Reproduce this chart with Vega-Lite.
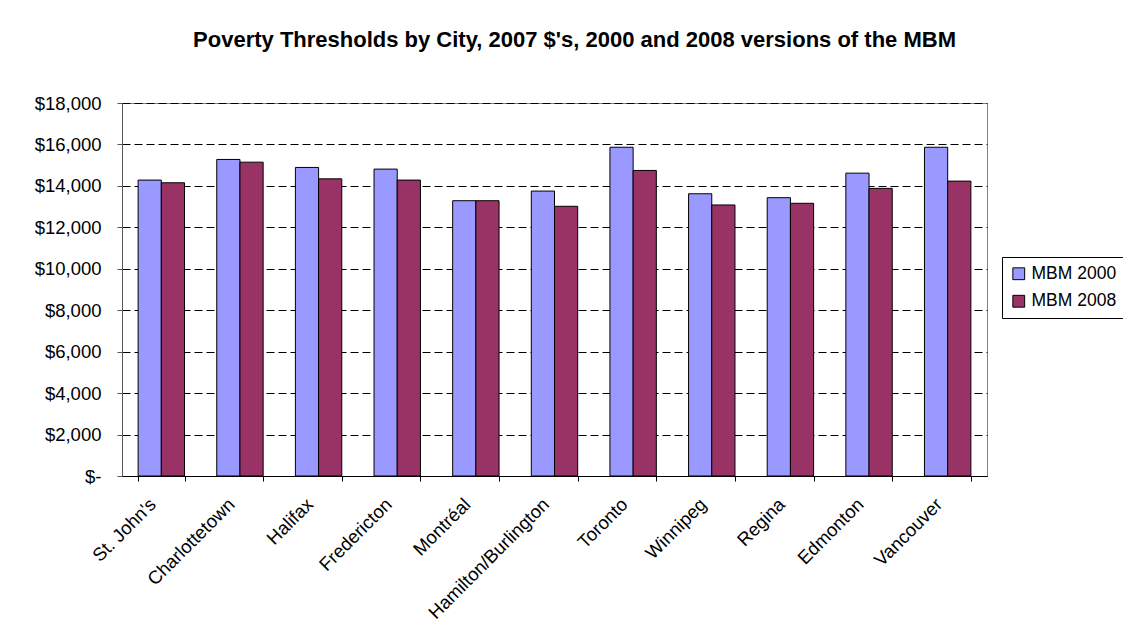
{
  "$schema": "https://vega.github.io/schema/vega-lite/v6.json",
  "autosize": "none",
  "width": 865,
  "height": 373,
  "padding": {"left": 122, "top": 103, "right": 136, "bottom": 168},
  "background": "white",
  "title": {
    "text": "Poverty Thresholds by City, 2007 $'s, 2000 and 2008 versions of the MBM",
    "font": "Liberation Sans",
    "fontSize": 22,
    "fontWeight": "bold",
    "color": "black",
    "anchor": "middle",
    "baseline": "alphabetic",
    "dx": 20,
    "offset": 25
  },
  "data": {
    "values": [
      {"city": "St. John's", "series": "MBM 2000", "value": 14280},
      {"city": "St. John's", "series": "MBM 2008", "value": 14150},
      {"city": "Charlottetown", "series": "MBM 2000", "value": 15275},
      {"city": "Charlottetown", "series": "MBM 2008", "value": 15145},
      {"city": "Halifax", "series": "MBM 2000", "value": 14890},
      {"city": "Halifax", "series": "MBM 2008", "value": 14340},
      {"city": "Fredericton", "series": "MBM 2000", "value": 14810},
      {"city": "Fredericton", "series": "MBM 2008", "value": 14280},
      {"city": "Montréal", "series": "MBM 2000", "value": 13285},
      {"city": "Montréal", "series": "MBM 2008", "value": 13285},
      {"city": "Hamilton/Burlington", "series": "MBM 2000", "value": 13750},
      {"city": "Hamilton/Burlington", "series": "MBM 2008", "value": 13015},
      {"city": "Toronto", "series": "MBM 2000", "value": 15865},
      {"city": "Toronto", "series": "MBM 2008", "value": 14745},
      {"city": "Winnipeg", "series": "MBM 2000", "value": 13620},
      {"city": "Winnipeg", "series": "MBM 2008", "value": 13080},
      {"city": "Regina", "series": "MBM 2000", "value": 13430},
      {"city": "Regina", "series": "MBM 2008", "value": 13160},
      {"city": "Edmonton", "series": "MBM 2000", "value": 14615},
      {"city": "Edmonton", "series": "MBM 2008", "value": 13880},
      {"city": "Vancouver", "series": "MBM 2000", "value": 15865},
      {"city": "Vancouver", "series": "MBM 2008", "value": 14230}
    ]
  },
  "mark": {"type": "bar", "stroke": "black", "strokeWidth": 1},
  "encoding": {
    "x": {
      "field": "city",
      "type": "nominal",
      "sort": null,
      "scale": {"paddingInner": 0.41, "paddingOuter": 0.205},
      "axis": {
        "title": null,
        "labelAngle": -45,
        "labelAlign": "right",
        "labelBaseline": "middle",
        "labelFont": "Liberation Sans",
        "labelFontSize": 18.5,
        "labelColor": "black",
        "labelPadding": 20,
        "labelOffset": -9,
        "tickBand": "extent",
        "tickSize": 5,
        "tickColor": "black",
        "domainColor": "black",
        "grid": false
      }
    },
    "xOffset": {"field": "series", "type": "nominal", "sort": ["MBM 2000", "MBM 2008"]},
    "y": {
      "field": "value",
      "type": "quantitative",
      "scale": {"domain": [0, 18000], "nice": false},
      "axis": {
        "title": null,
        "values": [0, 2000, 4000, 6000, 8000, 10000, 12000, 14000, 16000, 18000],
        "labelExpr": "datum.value == 0 ? '$-' : '$' + format(datum.value, ',')",
        "labelFont": "Liberation Sans",
        "labelFontSize": 18.5,
        "labelColor": "black",
        "labelPadding": 16,
        "tickSize": 5,
        "tickColor": "#555555",
        "domainColor": "#555555",
        "grid": true,
        "gridColor": "black",
        "gridDash": [8, 4],
        "gridWidth": 1
      }
    },
    "color": {
      "field": "series",
      "type": "nominal",
      "scale": {"domain": ["MBM 2000", "MBM 2008"], "range": ["#9999FF", "#993366"]},
      "legend": {
        "title": null,
        "orient": "none",
        "legendX": 880,
        "legendY": 154,
        "direction": "vertical",
        "symbolType": "square",
        "symbolSize": 140,
        "symbolStrokeColor": "black",
        "symbolStrokeWidth": 1,
        "symbolOpacity": 1,
        "labelFont": "Liberation Sans",
        "labelFontSize": 17.5,
        "labelColor": "black",
        "labelOffset": 4,
        "rowPadding": 8.5,
        "strokeColor": "black",
        "padding": 8
      }
    }
  },
  "config": {
    "view": {"stroke": "#808080", "strokeWidth": 1}
  }
}
